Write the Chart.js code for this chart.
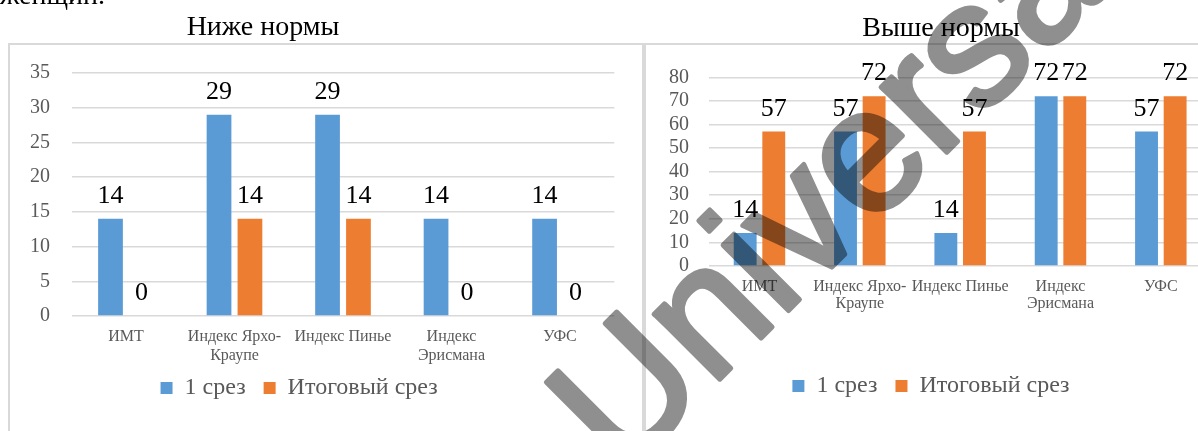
<!DOCTYPE html>
<html><head><meta charset="utf-8">
<script src="https://cdn.jsdelivr.net/npm/chart.js@4.4.1/dist/chart.umd.min.js"></script>
<style>
html,body{margin:0;padding:0;background:#fff;width:1198px;height:431px;overflow:hidden;position:relative;}
.box{position:absolute;border:2px solid #D9D9D9;box-sizing:border-box;}
canvas{position:absolute;top:0;}
svg{position:absolute;left:0;top:0;}
</style></head><body>
<div class="box" style="left:8px;top:43px;width:636px;height:420px;"></div>
<div class="box" style="left:644px;top:43px;width:600px;height:420px;"></div>
<canvas id="below" width="640" height="431" style="left:0px"></canvas>
<canvas id="above" width="580" height="431" style="left:644px"></canvas>
<svg width="1198" height="431" style="font-family:'Liberation Serif',serif;">
  <text x="0" y="4" font-size="28" fill="#000">женщин.</text>
  <text x="263" y="35" font-size="28" fill="#000" text-anchor="middle">Ниже нормы</text>
  <text x="941" y="36" font-size="28" fill="#000" text-anchor="middle">Выше нормы</text>
</svg>
<svg width="1198" height="431" style="mix-blend-mode:multiply;pointer-events:none;">
  <text x="622" y="477" transform="rotate(-45 622 477)" font-size="175" fill="#8F8F8F" stroke="#8F8F8F" stroke-width="5" stroke-linejoin="round" style="font-family:'Liberation Sans',sans-serif;">Universal</text>
</svg>
<script>
const categories = [["ИМТ"], ["Индекс Ярхо-", "Краупе"], ["Индекс Пинье"], ["Индекс", "Эрисмана"], ["УФС"]];
const seriesNames = ["1 срез", "Итоговый срез"];
const belowFirst = [14, 29, 29, 14, 14];
const belowFinal = [0, 14, 14, 0, 0];
const aboveFirst = [14, 57, 14, 72, 57];
const aboveFinal = [57, 72, 57, 72, 72];
const belowAxis = { max: 35, step: 5 };
const aboveAxis = { max: 80, step: 10 };

const SERIF = "'Liberation Serif', 'Times New Roman', serif";
Chart.defaults.font.family = SERIF;

const valueLabels = {
  id: 'valueLabels',
  afterDatasetsDraw(chart) {
    const ctx = chart.ctx;
    ctx.save();
    ctx.fillStyle = '#000';
    ctx.font = '26px ' + SERIF;
    ctx.textAlign = 'center';
    ctx.textBaseline = 'alphabetic';
    chart.data.datasets.forEach((ds, di) => {
      const meta = chart.getDatasetMeta(di);
      meta.data.forEach((el, i) => {
        ctx.fillText(String(ds.data[i]), el.x, el.y - 16);
      });
    });
    ctx.restore();
  }
};

const legendNudge = {
  id: 'legendNudge',
  afterLayout(chart, args, opts) {
    const l = chart.legend;
    if (!l) return;
    const pad = l.options.labels.padding;
    const fs = l.options.labels.font.size || 24;
    const cur = l.top + pad + fs / 2;
    const d = opts.y - cur;
    l.top += d; l.bottom += d;
    l.left += opts.dx; l.right += opts.dx;
    if (l.legendHitBoxes) l.legendHitBoxes.forEach(h => { h.top += d; h.left += opts.dx; });
  }
};

function makeChart(id, first, final, axis, o) {
  return new Chart(document.getElementById(id), {
    type: 'bar',
    data: {
      labels: categories,
      datasets: [
        { label: seriesNames[0], data: first, backgroundColor: '#5B9BD5' },
        { label: seriesNames[1], data: final, backgroundColor: '#ED7D31' }
      ]
    },
    options: {
      responsive: false,
      animation: false,
      devicePixelRatio: 1,
      layout: { padding: { left: 0, right: o.padR, top: o.padT, bottom: 0 } },
      datasets: { bar: { categoryPercentage: 0.57, barPercentage: 0.8 } },
      plugins: {
        legend: {
          position: 'bottom',
          labels: { boxWidth: 12, boxHeight: 12, padding: 18, color: '#595959', font: { family: SERIF, size: 24 } }
        },
        legendNudge: { y: o.legendY, dx: o.legendDx },
        tooltip: { enabled: false },
        title: { display: false }
      },
      scales: {
        x: {
          grid: { display: false, drawTicks: false },
          border: { display: false },
          ticks: { color: '#595959', font: { family: SERIF, size: 16, lineHeight: o.xLH }, padding: o.xPad, maxRotation: 0, minRotation: 0, autoSkip: false },
          afterFit: s => { s.height = o.xH; }
        },
        y: {
          min: 0, max: axis.max,
          ticks: { stepSize: axis.step, autoSkip: false, color: '#595959', font: { family: SERIF, size: 20 }, padding: o.yPad },
          grid: { color: '#D9D9D9', lineWidth: 1.5, drawTicks: false },
          border: { display: false },
          afterFit: s => { s.width = o.yW; }
        }
      }
    },
    plugins: [valueLabels, legendNudge]
  });
}

makeChart('below', belowFirst, belowFinal, belowAxis, { padR: 25.7, padT: 73, xH: 63, xPad: 11.4, xLH: 1.2, yW: 71.7, yPad: 21.7, legendY: 388, legendDx: -8 });
makeChart('above', aboveFirst, aboveFinal, aboveAxis, { padR: 13, padT: 77.3, xH: 113, xPad: 12.5, xLH: 1.07, yW: 65.3, yPad: 20.3, legendY: 386, legendDx: 3.5 });
</script>
</body></html>
